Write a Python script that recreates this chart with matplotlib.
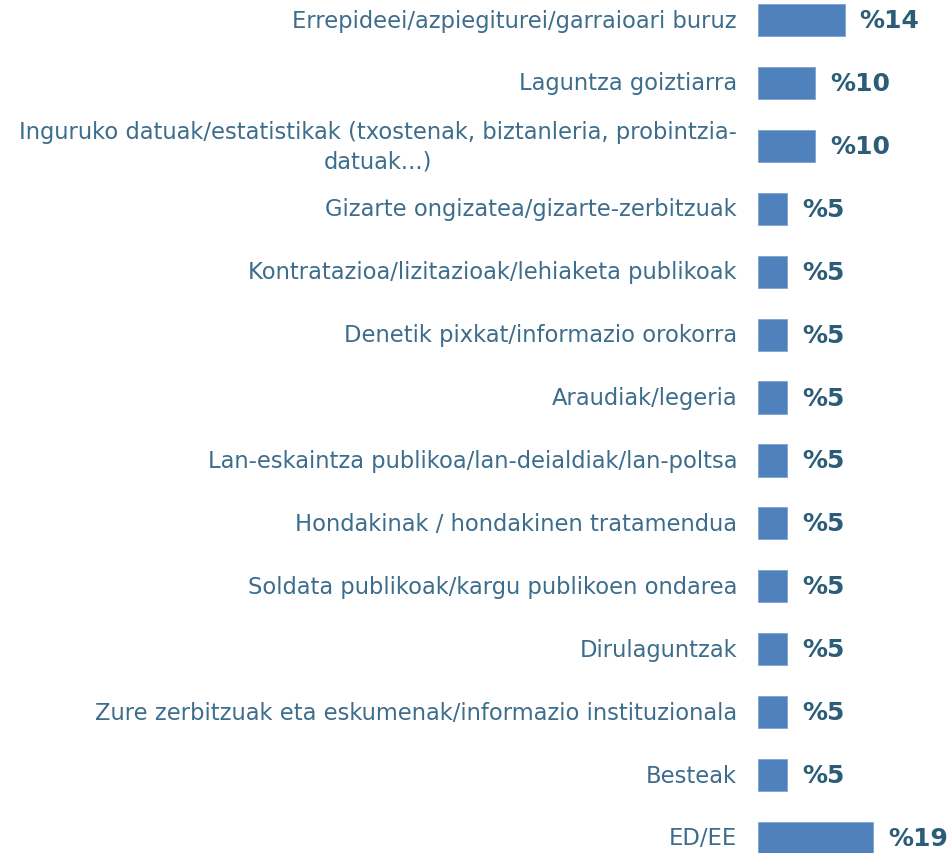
import matplotlib
matplotlib.use("Agg")
import matplotlib.pyplot as plt

categories = [
    "Errepideei/azpiegiturei/garraioari buruz",
    "Laguntza goiztiarra",
    "Inguruko datuak/estatistikak (txostenak, biztanleria, probintzia-\ndatuak...)",
    "Gizarte ongizatea/gizarte-zerbitzuak",
    "Kontratazioa/lizitazioak/lehiaketa publikoak",
    "Denetik pixkat/informazio orokorra",
    "Araudiak/legeria",
    "Lan-eskaintza publikoa/lan-deialdiak/lan-poltsa",
    "Hondakinak / hondakinen tratamendua",
    "Soldata publikoak/kargu publikoen ondarea",
    "Dirulaguntzak",
    "Zure zerbitzuak eta eskumenak/informazio instituzionala",
    "Besteak",
    "ED/EE",
]
values = [14.3, 9.5, 9.5, 4.8, 4.8, 4.8, 4.8, 4.8, 4.8, 4.8, 4.8, 4.8, 4.8, 19.0]
value_labels = ["%14", "%10", "%10", "%5", "%5", "%5", "%5", "%5", "%5", "%5", "%5", "%5", "%5", "%19"]

W, H = 949, 854
fig = plt.figure(figsize=(W / 100, H / 100), dpi=100)
ax = fig.add_axes([758 / W, 0, 1 - 758 / W, 1])

bar_color = "#4f81bd"
label_color = "#3d6d8c"
value_color = "#2b5d78"

ypos = list(range(len(categories)))
ax.barh(ypos, values, height=0.51, color=bar_color, edgecolor="#7fa3cf", linewidth=0.6)

ax.set_xlim(0, (W - 758) / 6.05)
ax.set_ylim(13 + 15 / 62.9, -21 / 62.9)
ax.axis("off")

for y, v, lab, cat in zip(ypos, values, value_labels, categories):
    ax.text(v + 15 / 6.05, y, lab, ha="left", va="center", fontsize=18,
            fontweight="bold", color=value_color, family="DejaVu Sans")
    ax.text(-21 / 6.05, y, cat, ha="right", va="center", fontsize=16.3,
            color=label_color, family="DejaVu Sans", multialignment="center",
            linespacing=1.35, clip_on=False)

fig.savefig("out.png", dpi=100)
